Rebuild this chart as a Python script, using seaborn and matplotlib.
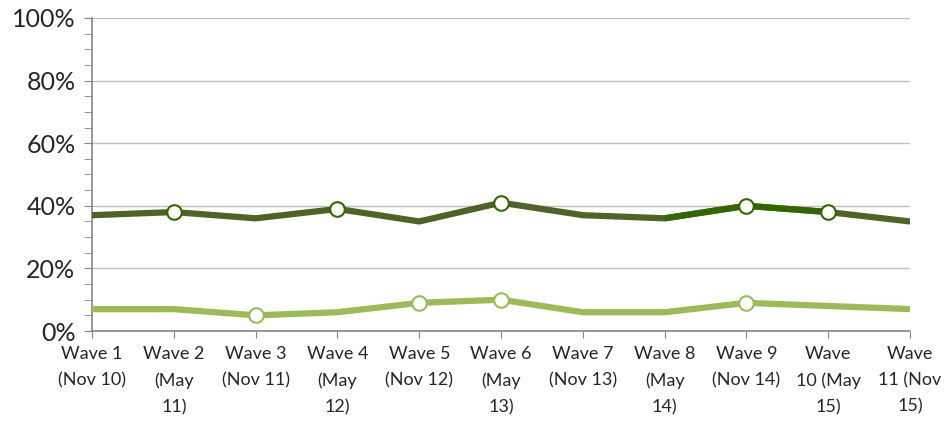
import matplotlib
matplotlib.use("Agg")
import matplotlib.pyplot as plt
import seaborn as sns
import pandas as pd
import numpy as np
from matplotlib.ticker import MultipleLocator, FuncFormatter

waves = ["Wave 1\n(Nov 10)", "Wave 2\n(May\n11)", "Wave 3\n(Nov 11)", "Wave 4\n(May\n12)",
         "Wave 5\n(Nov 12)", "Wave 6\n(May\n13)", "Wave 7\n(Nov 13)", "Wave 8\n(May\n14)",
         "Wave 9\n(Nov 14)", "Wave\n10 (May\n15)", "Wave\n11 (Nov\n15)"]
dark_vals = [37, 38, 36, 39, 35, 41, 37, 36, 40, 38, 35]
light_vals = [7, 7, 5, 6, 9, 10, 6, 6, 9, 8, 7]
dark_marked = [1, 3, 5, 8, 9]
light_marked = [2, 4, 5, 8]
dark_highlight = [7, 8, 9]

sns.set_style("white")
plt.rcParams['font.family'] = ['Lato', 'DejaVu Sans']

idx = list(range(len(waves)))
df = pd.DataFrame({"x": idx, "dark": dark_vals, "light": light_vals})

fig = plt.figure(figsize=(9.47, 4.28), dpi=100)
ax = fig.add_axes([0.0972, 0.2266, 0.8638, 0.7314])

DARK = "#4F6228"
DARK2 = "#336600"
LIGHT = "#9BBB59"

sns.lineplot(data=df, x="x", y="light", ax=ax, color=LIGHT, linewidth=4.5, solid_capstyle="round", zorder=3)
sns.lineplot(data=df, x="x", y="dark", ax=ax, color=DARK, linewidth=4.5, solid_capstyle="round", zorder=3)
hi = df.iloc[dark_highlight]
sns.lineplot(data=hi, x="x", y="dark", ax=ax, color=DARK2, linewidth=4.5, solid_capstyle="butt", zorder=4)

dm = df.iloc[dark_marked]
lm = df.iloc[light_marked]
ax.scatter(dm["x"], dm["dark"], s=110, facecolor="white", edgecolor=DARK2, linewidth=1.5, zorder=5)
ax.scatter(lm["x"], lm["light"], s=110, facecolor="white", edgecolor=LIGHT, linewidth=1.5, zorder=5)

ax.set_xlim(0, 10)
ax.set_ylim(0, 100)
ax.set_xticks(idx)
ax.set_xticklabels(waves, fontsize=13, linespacing=1.75)
ax.yaxis.set_major_locator(MultipleLocator(20))
ax.yaxis.set_minor_locator(MultipleLocator(5))
ax.yaxis.set_major_formatter(FuncFormatter(lambda v, p: f"{int(v)}%"))
ax.tick_params(axis="y", labelsize=18, which="both", length=6, color="#868686", left=True, direction="out", pad=6)
ax.tick_params(axis="x", length=5, color="#868686", bottom=True, direction="out", pad=6)
ax.grid(axis="y", which="major", color="#C0C0C0", linewidth=1)
ax.set_axisbelow(True)
for s in ["top", "right"]:
    ax.spines[s].set_visible(False)
for s in ["left", "bottom"]:
    ax.spines[s].set_color("#868686")
    ax.spines[s].set_linewidth(1.2)
ax.set_xlabel("")
ax.set_ylabel("")
for lbl in ax.get_xticklabels():
    lbl.set_horizontalalignment("center")
    lbl.set_multialignment("center")

fig.savefig("out.png", dpi=100)
